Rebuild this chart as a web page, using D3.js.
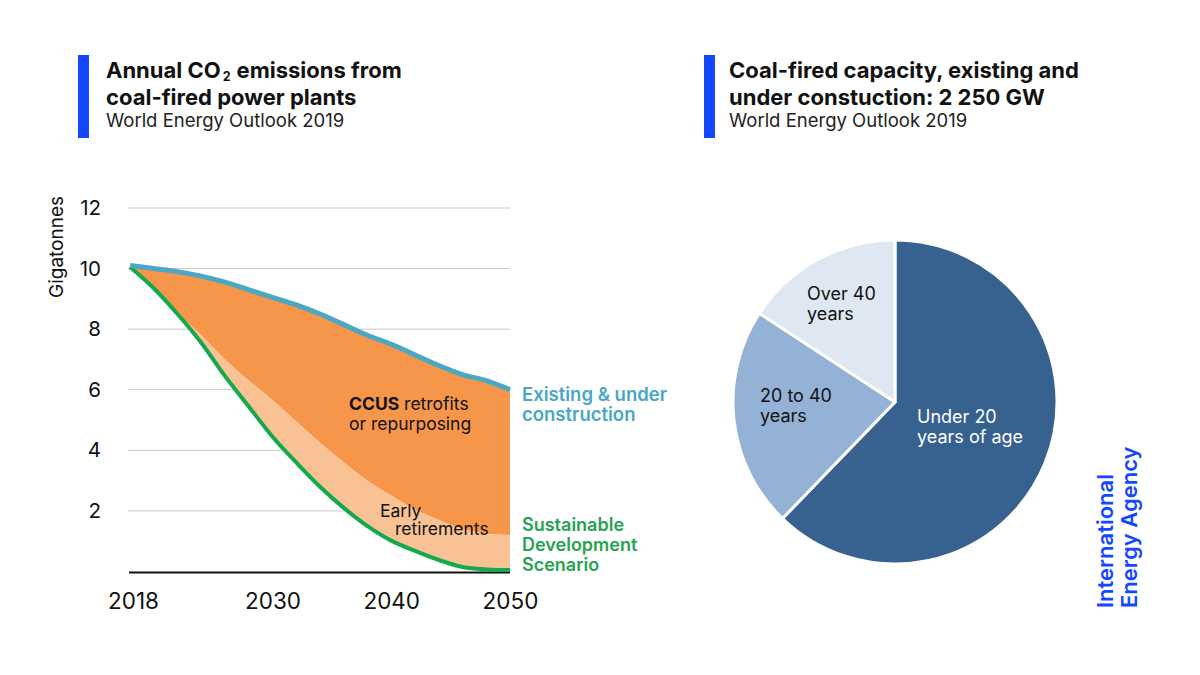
<!DOCTYPE html>
<html>
<head>
<meta charset="utf-8">
<script src="https://cdn.jsdelivr.net/npm/d3@7"></script>
<style>
  html, body { margin: 0; padding: 0; background: #ffffff; }
  svg { display: block; font-family: Inter, "Noto Sans", sans-serif; }
</style>
</head>
<body>
<svg id="chart" width="1200" height="675"></svg>
<script>
// ---------- Data ----------
const years = [2018, 2020, 2022, 2024, 2026, 2028, 2030, 2032, 2034, 2036, 2038, 2040, 2042, 2044, 2046, 2048, 2050];
// Existing & under construction (Gt CO2)
const existingLevel = [10.1, 10.0, 9.9, 9.75, 9.55, 9.3, 9.05, 8.8, 8.5, 8.15, 7.8, 7.5, 7.15, 6.8, 6.5, 6.3, 6.0];
// Sustainable Development Scenario (Gt CO2)
const sdsLevel = [10.05, 9.35, 8.5, 7.55, 6.45, 5.45, 4.45, 3.6, 2.8, 2.1, 1.5, 1.02, 0.68, 0.38, 0.15, 0.07, 0.05];
// SDS + early retirements (upper edge of the light band)
const earlyLevel = [10.05, 9.35, 8.52, 7.8, 7.0, 6.3, 5.65, 4.95, 4.25, 3.6, 3.0, 2.5, 2.05, 1.7, 1.4, 1.25, 1.2];
const yTicks = [2, 4, 6, 8, 10, 12];
const xTicks = [2018, 2030, 2040, 2050];

// Coal-fired capacity by age (GW), total 2 250 GW
const ageCategories = ["Under 20 years of age", "20 to 40 years", "Over 40 years"];
const ageCapacity = [1400, 495, 355];
const ageColors = ["#37618f", "#94b1d6", "#dee7f2"];

// ---------- Setup ----------
const svg = d3.select("#chart");
const blue = "#1448ff";

function multiLine(xPos, yPos, lines, lh, attrs) {
  const t = svg.append("text").attr("x", xPos).attr("y", yPos);
  Object.entries(attrs).forEach(([k, v]) => t.attr(k, v));
  lines.forEach((l, i) => t.append("tspan").attr("x", xPos).attr("dy", i === 0 ? 0 : lh).text(l));
  return t;
}

// ---------- Titles ----------
function titleBlock(x, lines, sub, barX) {
  svg.append("rect").attr("x", barX).attr("y", 55).attr("width", 11).attr("height", 83).attr("fill", blue);
  lines.forEach((l, i) => {
    let cursor = x;
    l.forEach(part => {
      const isSub = !!part.sub;
      if (isSub) cursor += 2;
      const txt = svg.append("text").attr("x", cursor).attr("y", 78 + i * 27 + (isSub ? 2.5 : 0))
        .attr("font-size", isSub ? 12.5 : 22).attr("font-weight", 700).attr("fill", "#111")
        .text(part.t);
      cursor += txt.node().getComputedTextLength() + (isSub ? 6 : 0);
    });
  });
  svg.append("text").attr("x", x).attr("y", 126.5).attr("font-size", 18.5).attr("fill", "#222").text(sub);
}
titleBlock(106, [[{t: "Annual CO"}, {t: "2", sub: true}, {t: "emissions from"}], [{t: "coal-fired power plants"}]],
  "World Energy Outlook 2019", 78);
titleBlock(729, [[{t: "Coal-fired capacity, existing and"}], [{t: "under constuction: 2 250 GW"}]],
  "World Energy Outlook 2019", 704);

// ---------- Area chart ----------
const x = d3.scaleLinear().domain([2018, 2050]).range([130, 510]);
const y = d3.scaleLinear().domain([0, 12]).range([571.5, 208]);

const g = svg.append("g");

// gridlines
g.selectAll("line.grid").data(yTicks).enter().append("line")
  .attr("x1", 128).attr("x2", 510)
  .attr("y1", d => y(d)).attr("y2", d => y(d))
  .attr("stroke", "#c9c9c9").attr("stroke-width", 1);

const rows = years.map((yr, i) => ({yr, ex: existingLevel[i], sds: sdsLevel[i], early: earlyLevel[i]}));
const curve = d3.curveCatmullRom.alpha(0.5);

g.append("path").datum(rows)
  .attr("d", d3.area().x(d => x(d.yr)).y0(d => y(d.early)).y1(d => y(d.ex)).curve(curve))
  .attr("fill", "#f6964a");
g.append("path").datum(rows)
  .attr("d", d3.area().x(d => x(d.yr)).y0(d => y(d.sds)).y1(d => y(d.early)).curve(curve))
  .attr("fill", "#f9c295");

// baseline
g.append("line").attr("x1", 129).attr("x2", 510).attr("y1", y(0) + 1).attr("y2", y(0) + 1)
  .attr("stroke", "#111").attr("stroke-width", 2);

g.append("path").datum(rows)
  .attr("d", d3.line().x(d => x(d.yr)).y(d => y(d.sds)).curve(curve))
  .attr("fill", "none").attr("stroke", "#14a94c").attr("stroke-width", 4).attr("stroke-linejoin", "round");
g.append("path").datum(rows)
  .attr("d", d3.line().x(d => x(d.yr)).y(d => y(d.ex)).curve(curve))
  .attr("fill", "none").attr("stroke", "#4ba7c4").attr("stroke-width", 5).attr("stroke-linejoin", "round");

// y axis
const yAxis = g.append("g").attr("transform", "translate(130,0)")
  .call(d3.axisLeft(y).tickValues(yTicks).tickSize(0).tickPadding(29).tickFormat(d3.format("d")));
yAxis.select(".domain").remove();
yAxis.selectAll("text").attr("font-size", 20.5).attr("fill", "#111").attr("font-family", "Inter, sans-serif");

// x axis
const xAxis = g.append("g").attr("transform", `translate(0,${y(0)})`)
  .call(d3.axisBottom(x).tickValues(xTicks).tickSize(0).tickFormat(d3.format("d")));
xAxis.select(".domain").remove();
xAxis.selectAll("text").attr("y", 37).attr("dy", 0).attr("font-size", 22.5).attr("fill", "#111")
  .attr("font-family", "Inter, sans-serif");
xAxis.selectAll(".tick").filter(d => d === 2018).select("text").attr("dx", 3);

// y title
svg.append("text").attr("transform", "translate(63,247) rotate(-90)")
  .attr("text-anchor", "middle").style("font-size", "19px").attr("fill", "#111").text("Gigatonnes");

// area labels
const ccus = svg.append("text").attr("x", 349).attr("y", 410).attr("font-size", 17.5).attr("fill", "#111");
ccus.append("tspan").attr("font-weight", 700).text("CCUS");
ccus.append("tspan").text(" retrofits");
ccus.append("tspan").attr("x", 349).attr("dy", 20).text("or repurposing");
const early = svg.append("text").attr("x", 380).attr("y", 517).attr("font-size", 17.5).attr("fill", "#111");
early.append("tspan").attr("x", 380).text("Early");
early.append("tspan").attr("x", 395).attr("dy", 18).text("retirements");

// series labels
multiLine(522, 401, ["Existing & under", "construction"], 20,
  {"font-size": 18.5, "font-weight": 600, "fill": "#4aa6c6"});
multiLine(522, 531, ["Sustainable", "Development", "Scenario"], 20,
  {"font-size": 18, "font-weight": 600, "fill": "#25a34f"});

// ---------- Pie ----------
const cx = 895, cy = 402, r = 162;
const pie = d3.pie().sort(null).value(d => d.v)(ageCategories.map((c, i) => ({c, v: ageCapacity[i], col: ageColors[i]})));
const arc = d3.arc().innerRadius(0).outerRadius(r);
const pg = svg.append("g").attr("transform", `translate(${cx},${cy})`);
pg.selectAll("path").data(pie).enter().append("path")
  .attr("d", arc).attr("fill", d => d.data.col)
  .attr("stroke", "#fff").attr("stroke-width", 3).attr("stroke-linejoin", "round");

const pieLabels = [
  {lines: ["Under 20", "years of age"], x: 917, y: 423, col: "#fff"},
  {lines: ["20 to 40", "years"], x: 760, y: 402, col: "#111"},
  {lines: ["Over 40", "years"], x: 807, y: 300, col: "#111"}
];
pieLabels.forEach(l => multiLine(l.x, l.y, l.lines, 20, {"font-size": 18, "fill": l.col}));

// ---------- IEA ----------
const iea = svg.append("g").attr("transform", "translate(1113,608) rotate(-90)");
const ieaText = iea.append("text").attr("font-size", 22).attr("font-weight", 600).attr("fill", blue);
ieaText.append("tspan").attr("x", 0).attr("y", 0).text("International");
ieaText.append("tspan").attr("x", 0).attr("y", 24).text("Energy Agency");
</script>
</body>
</html>
